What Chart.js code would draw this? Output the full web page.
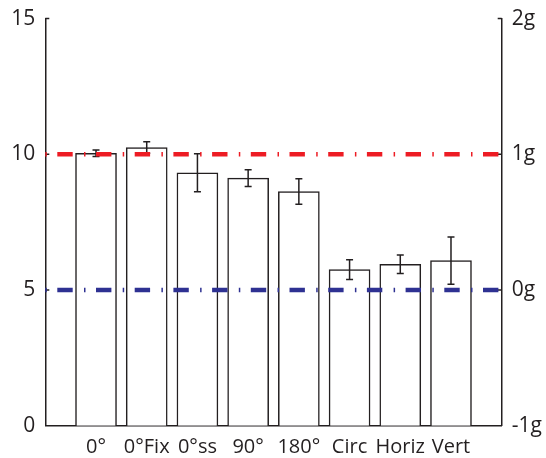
<!DOCTYPE html>
<html>
<head>
<meta charset="utf-8">
<script src="https://cdn.jsdelivr.net/npm/chart.js@4/dist/chart.umd.min.js"></script>
<style>
  html, body { margin: 0; padding: 0; background: #fff; }
  #wrap { width: 546px; height: 458px; position: relative; }
</style>
</head>
<body>
<div id="wrap"><canvas id="c"></canvas></div>
<script>
// Conditions and mean values with their error half-widths
const categories = ['0°', '0°Fix', '0°ss', '90°', '180°', 'Circ', 'Horiz', 'Vert'];
const means = [10.04, 10.25, 9.32, 9.12, 8.63, 5.75, 5.95, 6.08];
const errors = [0.12, 0.21, 0.70, 0.31, 0.47, 0.36, 0.34, 0.87];

// Left axis ticks and right axis (g) ticks
const leftTicks = [0, 5, 10, 15];
const rightTicks = [-1, 0, 1, 2];

// Reference levels on the left scale
const oneG = 10;
const zeroG = 5;

const ink = '#231f20';
const red = '#ed1c24';
const blue = '#2e3192';
const dashDot = [1.5, 10.5, 15.4, 11.3];

// one empty slot on each side of the bars
const labels = ['', ...categories, ''];
const barData = [null, ...means, null];
const errData = [null, ...errors, null];

const errorBars = {
  id: 'errorBars',
  afterDatasetDraw(chart, args) {
    if (args.index !== 0) return;
    const y = chart.scales.y;
    const ctx = chart.ctx;
    ctx.save();
    ctx.strokeStyle = ink;
    ctx.lineWidth = 1.5;
    args.meta.data.forEach((bar, i) => {
      const v = barData[i], e = errData[i];
      if (v == null || e == null) return;
      const x = bar.x;
      const yHi = y.getPixelForValue(v + e);
      const yLo = y.getPixelForValue(v - e);
      const cap = 3.5;
      ctx.beginPath();
      ctx.moveTo(x, yHi); ctx.lineTo(x, yLo);
      ctx.moveTo(x - cap, yHi); ctx.lineTo(x + cap, yHi);
      ctx.moveTo(x - cap, yLo); ctx.lineTo(x + cap, yLo);
      ctx.stroke();
    });
    ctx.restore();
  }
};

// short tick marks pointing into the plot
const innerTicks = {
  id: 'innerTicks',
  beforeDatasetsDraw(chart) {
    const ctx = chart.ctx;
    const len = 4;
    ctx.save();
    ctx.strokeStyle = ink;
    ctx.lineWidth = 1.5;
    const yl = chart.scales.y, yr = chart.scales.y2;
    ctx.beginPath();
    leftTicks.forEach(t => {
      if (t === 0) return;
      const p = yl.getPixelForValue(t);
      ctx.moveTo(yl.right, p); ctx.lineTo(yl.right + len, p);
    });
    rightTicks.forEach(t => {
      if (t === -1) return;
      const p = yr.getPixelForValue(t);
      ctx.moveTo(yr.left, p); ctx.lineTo(yr.left - len, p);
    });
    ctx.stroke();
    ctx.restore();
  }
};

new Chart(document.getElementById('c'), {
  type: 'bar',
  data: {
    labels: labels,
    datasets: [
      {
        type: 'bar',
        data: barData,
        backgroundColor: '#ffffff',
        borderColor: ink,
        borderWidth: 1.5,
        barThickness: 41,
        order: 2
      },
      {
        type: 'line',
        data: labels.map(() => oneG),
        borderColor: red,
        borderWidth: 4.5,
        borderDash: dashDot,
        borderCapStyle: 'butt',
        pointRadius: 0,
        order: 1
      },
      {
        type: 'line',
        data: labels.map(() => zeroG),
        borderColor: blue,
        borderWidth: 4.5,
        borderDash: dashDot,
        borderCapStyle: 'butt',
        pointRadius: 0,
        order: 1
      }
    ]
  },
  options: {
    responsive: true,
    maintainAspectRatio: false,
    animation: false,
    layout: { padding: { top: 18.6, left: 0, right: 0, bottom: 0 } },
    plugins: { legend: { display: false }, tooltip: { enabled: false } },
    scales: {
      x: {
        type: 'category',
        offset: false,
        grid: { display: false, drawTicks: false },
        border: { display: true, color: ink, width: 1.5 },
        ticks: {
          color: ink,
          padding: 10,
          autoSkip: false,
          maxRotation: 0,
          font: { family: "'Open Sans', sans-serif", size: 20 }
        },
        afterFit(scale) { scale.height = 32.3; }
      },
      y: {
        position: 'left',
        min: 0, max: 15,
        afterBuildTicks(scale) { scale.ticks = leftTicks.map(v => ({ value: v })); },
        grid: { display: false, drawTicks: false },
        border: { display: true, color: ink, width: 1.5 },
        ticks: {
          color: ink,
          padding: 10,
          font: { family: "'Open Sans', sans-serif", size: 21, lineHeight: 0.8 }
        },
        afterFit(scale) { scale.width = 45.3; }
      },
      y2: {
        position: 'right',
        min: -1, max: 2,
        afterBuildTicks(scale) { scale.ticks = rightTicks.map(v => ({ value: v })); },
        grid: { display: false, drawTicks: false },
        border: { display: true, color: ink, width: 1.5 },
        ticks: {
          color: ink,
          padding: 10,
          callback: v => v + 'g',
          font: { family: "'Open Sans', sans-serif", size: 21, lineHeight: 0.8 }
        },
        afterFit(scale) { scale.width = 44.3; }
      }
    }
  },
  plugins: [errorBars, innerTicks]
});
</script>
</body>
</html>
